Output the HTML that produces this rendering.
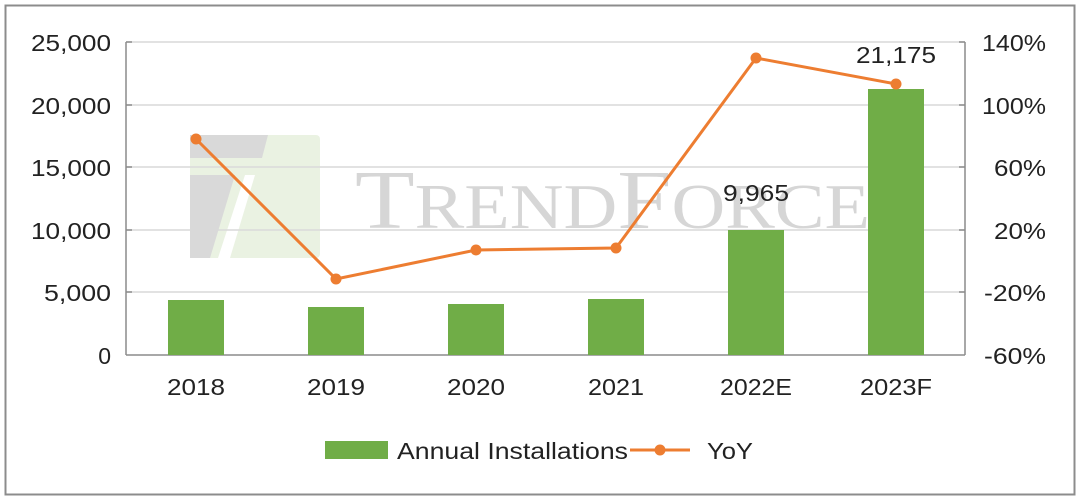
<!DOCTYPE html>
<html><head><meta charset="utf-8"><style>
body{margin:0;background:#fff;}
svg{display:block;font-family:"Liberation Sans",sans-serif;}
</style></head><body>
<svg width="1080" height="502" viewBox="0 0 1080 502">
<rect x="5.5" y="5.5" width="1069" height="489" fill="#fff" stroke="#8c8c8c" stroke-width="2"/>
<g>
<rect x="190" y="135" width="130" height="123" rx="4" fill="#eaf2e2"/>
<polygon points="190,135 268,135 262,158 190,158" fill="#d9d9d9"/>
<polygon points="190,175 235,175 210,258 190,258" fill="#d9d9d9"/>
<polygon points="245,175 255,175 230,258 218,258" fill="#ffffff"/>
<text x="355" y="228" font-family="Liberation Serif,serif" font-size="84" fill="#d6d6d6" textLength="515" lengthAdjust="spacingAndGlyphs">T<tspan font-size="64">REND</tspan>F<tspan font-size="64">ORCE</tspan></text>
</g>
<g stroke="#d9d9d9" stroke-width="1.5">
<line x1="126" y1="42" x2="965" y2="42"/><line x1="126" y1="105" x2="965" y2="105"/><line x1="126" y1="167" x2="965" y2="167"/><line x1="126" y1="230" x2="965" y2="230"/><line x1="126" y1="292" x2="965" y2="292"/>
</g>
<g stroke="#8c8c8c" stroke-width="1.5" fill="none">
<line x1="126" y1="42" x2="126" y2="355"/>
<line x1="965" y1="42" x2="965" y2="355"/>
<line x1="126" y1="355" x2="965" y2="355"/>
<line x1="126" y1="42" x2="132" y2="42"/><line x1="126" y1="105" x2="132" y2="105"/><line x1="126" y1="167" x2="132" y2="167"/><line x1="126" y1="230" x2="132" y2="230"/><line x1="126" y1="292" x2="132" y2="292"/>
<line x1="959" y1="42" x2="965" y2="42"/><line x1="959" y1="105" x2="965" y2="105"/><line x1="959" y1="167" x2="965" y2="167"/><line x1="959" y1="230" x2="965" y2="230"/><line x1="959" y1="292" x2="965" y2="292"/>
</g>
<g font-size="23" fill="#222" text-anchor="end">
<text x="111" y="51" textLength="80" lengthAdjust="spacingAndGlyphs">25,000</text><text x="111" y="114" textLength="80" lengthAdjust="spacingAndGlyphs">20,000</text><text x="111" y="176" textLength="80" lengthAdjust="spacingAndGlyphs">15,000</text><text x="111" y="239" textLength="80" lengthAdjust="spacingAndGlyphs">10,000</text><text x="111" y="301" textLength="67" lengthAdjust="spacingAndGlyphs">5,000</text><text x="111" y="364">0</text>
</g>
<g font-size="23" fill="#222" text-anchor="start">
<text x="982" y="51" textLength="64" lengthAdjust="spacingAndGlyphs">140%</text><text x="982" y="114" textLength="64" lengthAdjust="spacingAndGlyphs">100%</text><text x="994" y="176" textLength="52" lengthAdjust="spacingAndGlyphs">60%</text><text x="994" y="239" textLength="52" lengthAdjust="spacingAndGlyphs">20%</text><text x="984" y="301" textLength="62" lengthAdjust="spacingAndGlyphs">-20%</text><text x="984" y="364" textLength="62" lengthAdjust="spacingAndGlyphs">-60%</text>
</g>
<g fill="#70ad47">
<rect x="168" y="300" width="56" height="55"/>
<rect x="308" y="307" width="56" height="48"/>
<rect x="448" y="304" width="56" height="51"/>
<rect x="588" y="299" width="56" height="56"/>
<rect x="728" y="230" width="56" height="125"/>
<rect x="868" y="89" width="56" height="266"/>
</g>
<g font-size="23" fill="#222" text-anchor="middle">
<text x="196" y="395" textLength="58" lengthAdjust="spacingAndGlyphs">2018</text><text x="336" y="395" textLength="58" lengthAdjust="spacingAndGlyphs">2019</text><text x="476" y="395" textLength="58" lengthAdjust="spacingAndGlyphs">2020</text><text x="616" y="395" textLength="56" lengthAdjust="spacingAndGlyphs">2021</text><text x="756" y="395" textLength="72" lengthAdjust="spacingAndGlyphs">2022E</text><text x="896" y="395" textLength="72" lengthAdjust="spacingAndGlyphs">2023F</text>
<text x="756" y="201" textLength="66" lengthAdjust="spacingAndGlyphs">9,965</text><text x="896" y="63" textLength="80" lengthAdjust="spacingAndGlyphs">21,175</text>
</g>
<polyline points="196,139 336,279 476,250 616,248 756,58 896,84" fill="none" stroke="#ed7d31" stroke-width="3"/>
<g fill="#ed7d31">
<circle cx="196" cy="139" r="5.5"/><circle cx="336" cy="279" r="5.5"/><circle cx="476" cy="250" r="5.5"/><circle cx="616" cy="248" r="5.5"/><circle cx="756" cy="58" r="5.5"/><circle cx="896" cy="84" r="5.5"/>
</g>
<rect x="325" y="441" width="63" height="18" fill="#70ad47"/>
<text x="397" y="459" font-size="23" fill="#222" textLength="231" lengthAdjust="spacingAndGlyphs">Annual Installations</text>
<line x1="630" y1="450" x2="690" y2="450" stroke="#ed7d31" stroke-width="3"/>
<circle cx="660" cy="450" r="5.5" fill="#ed7d31"/>
<text x="707" y="459" font-size="23" fill="#222" textLength="46" lengthAdjust="spacingAndGlyphs">YoY</text>
</svg>
</body></html>
